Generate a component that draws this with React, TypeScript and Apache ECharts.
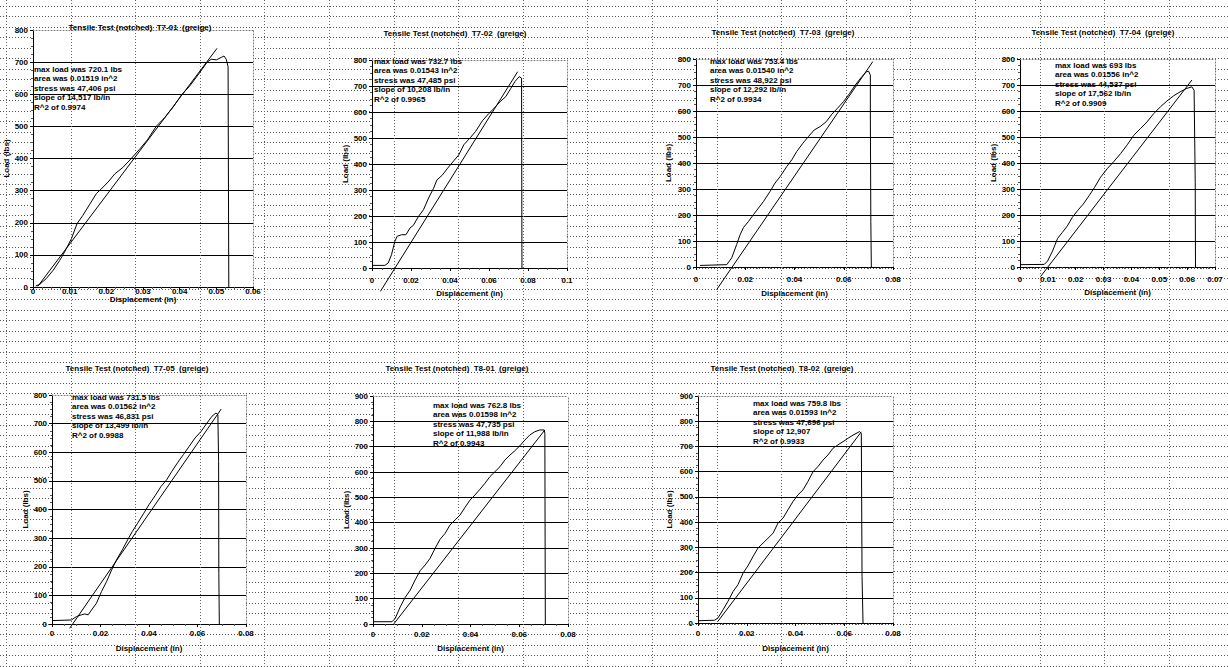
import { useEffect, useRef } from "react";
import * as echarts from "echarts";

const FONT = '"Liberation Sans Narrow", "Liberation Sans", Arial, sans-serif';

// ---------- data ----------
const specimenIds = ["T7-01", "T7-02", "T7-03", "T7-04", "T7-05", "T8-01", "T8-02"];
const xMax = [0.06, 0.1, 0.08, 0.07, 0.08, 0.08, 0.08];
const xStep = [0.01, 0.02, 0.02, 0.01, 0.02, 0.02, 0.02];
const yMax = [800, 800, 800, 800, 800, 900, 900];
const yStep = 100;

const maxLoads = ["720.1", "732.7", "753.4", "693", "731.5", "762.8", "759.8"];
const areas = ["0.01519", "0.01543", "0.01540", "0.01556", "0.01562", "0.01598", "0.01593"];
const stresses = ["47,406", "47,485", "48,922", "44,537", "46,831", "47,735", "47,696"];
const slopes = ["14,517 lb/in", "10,208 lb/in", "12,292 lb/in", "17,562 lb/in", "13,499 lb/in", "11,988 lb/in", "12,907"];
const rSquared = ["0.9974", "0.9965", "0.9934", "0.9909", "0.9988", "0.9943", "0.9933"];

const t701Curve = [
  [0.0007, 3], [0.0018, 8], [0.0036, 26], [0.0055, 52], [0.0073, 83], [0.0086, 109], [0.0105, 151],
  [0.012, 197], [0.0136, 223], [0.0155, 258], [0.0173, 291], [0.0186, 305], [0.0205, 327], [0.0223, 352],
  [0.0245, 372], [0.0268, 400], [0.029, 428], [0.0312, 458], [0.0336, 500], [0.0359, 527], [0.0382, 560],
  [0.0405, 598], [0.0427, 625], [0.045, 660], [0.0475, 700], [0.0486, 709], [0.05, 707], [0.0514, 715],
  [0.0521, 719], [0.0527, 709], [0.0532, 686], [0.0534, 0],
];
const t701Fit = [[0.0013, 2], [0.0502, 743]];

const t702Curve = [
  [0, 10], [0.0066, 10], [0.0083, 19], [0.01, 51], [0.0117, 102], [0.0129, 122], [0.0152, 128],
  [0.0174, 128], [0.0195, 154], [0.0212, 164], [0.0238, 198], [0.0264, 224], [0.029, 269], [0.0316, 307],
  [0.0333, 339], [0.0359, 356], [0.0388, 384], [0.0419, 412], [0.0445, 435], [0.0471, 474], [0.0505, 502],
  [0.0531, 525], [0.0566, 566], [0.06, 595], [0.0626, 614], [0.0657, 640], [0.0686, 659], [0.0712, 691],
  [0.0733, 717], [0.0755, 736], [0.0767, 730], [0.0769, 0],
];
const t702Fit = [[0.0043, -90], [0.0747, 755]];

const t703Curve = [
  [0.0016, 6], [0.0125, 9], [0.0145, 35], [0.0165, 86], [0.0179, 124], [0.0193, 152], [0.0213, 175],
  [0.0233, 201], [0.0254, 227], [0.0274, 252], [0.0301, 291], [0.0321, 323], [0.0342, 348], [0.0369, 387],
  [0.0389, 412], [0.0409, 444], [0.0434, 476], [0.0457, 502], [0.048, 527], [0.0504, 540], [0.0529, 559],
  [0.0552, 588], [0.0575, 611], [0.0599, 636], [0.0624, 668], [0.0647, 700], [0.067, 728], [0.0692, 751],
  [0.0701, 753], [0.0708, 738], [0.0708, 585], [0.071, 175], [0.0712, 0],
];
const t703Fit = [[0.0084, -87], [0.0718, 790]];

const t704Curve = [
  [0, 9], [0.0087, 10], [0.0099, 23], [0.0117, 62], [0.0135, 110], [0.0152, 133], [0.017, 158],
  [0.0188, 191], [0.0206, 216], [0.0227, 242], [0.0248, 274], [0.0268, 307], [0.0289, 345], [0.0313, 378],
  [0.0337, 406], [0.0361, 436], [0.0385, 470], [0.0408, 506], [0.0432, 532], [0.0456, 558], [0.048, 590],
  [0.0504, 616], [0.0527, 638], [0.0551, 658], [0.0575, 674], [0.0599, 687], [0.0617, 693], [0.0625, 680],
  [0.0629, 326], [0.063, 0],
];
const t704Fit = [[0.0075, -35], [0.0617, 719]];

const t705Curve = [
  [0, 12], [0.008, 14], [0.0101, 26], [0.0121, 32], [0.0135, 35], [0.0149, 32], [0.0163, 49],
  [0.0183, 72], [0.0204, 113], [0.0225, 148], [0.0246, 189], [0.0266, 224], [0.029, 259], [0.0312, 294],
  [0.0331, 323], [0.0353, 352], [0.0377, 385], [0.04, 417], [0.0425, 448], [0.045, 481], [0.0473, 504],
  [0.0494, 533], [0.0519, 565], [0.0542, 592], [0.0566, 621], [0.059, 650], [0.0615, 673], [0.0639, 702],
  [0.066, 726], [0.0676, 737], [0.0684, 732], [0.0687, 568], [0.0688, 177], [0.069, 0],
];
const t705Fit = [[0.0073, -15], [0.0698, 751]];

const t801Curve = [
  [0, 9], [0.0078, 9], [0.0091, 22], [0.0112, 68], [0.0132, 105], [0.0153, 134], [0.0173, 174],
  [0.0194, 211], [0.0214, 233], [0.0234, 259], [0.0255, 299], [0.0275, 334], [0.0296, 358], [0.0316, 391],
  [0.0337, 411], [0.0357, 430], [0.0378, 461], [0.0398, 489], [0.0418, 509], [0.0439, 532], [0.0459, 555],
  [0.048, 582], [0.05, 601], [0.0521, 621], [0.0541, 647], [0.0562, 667], [0.0582, 684], [0.0602, 703],
  [0.0623, 726], [0.0643, 746], [0.0664, 759], [0.0684, 766], [0.0702, 766], [0.0705, 753], [0.0706, 371],
  [0.0707, 0],
];
const t801Fit = [[0.0085, 0], [0.0705, 766]];

const t802Curve = [
  [0, 9], [0.0068, 11], [0.0082, 20], [0.0103, 53], [0.0123, 86], [0.0144, 125], [0.0164, 152],
  [0.0185, 198], [0.0205, 227], [0.0226, 264], [0.0246, 297], [0.0267, 317], [0.0287, 336], [0.0308, 356],
  [0.0328, 396], [0.0349, 416], [0.0369, 449], [0.039, 482], [0.041, 508], [0.0431, 528], [0.0451, 561],
  [0.0472, 600], [0.0492, 620], [0.0513, 646], [0.0533, 666], [0.0554, 693], [0.0574, 706], [0.0595, 719],
  [0.0615, 732], [0.0636, 745], [0.0663, 759], [0.067, 752], [0.0673, 185], [0.0677, 0],
];
const t802Fit = [[0.0082, 7], [0.067, 758]];

const curves = [t701Curve, t702Curve, t703Curve, t704Curve, t705Curve, t801Curve, t802Curve];
const fits = [t701Fit, t702Fit, t703Fit, t704Fit, t705Fit, t801Fit, t802Fit];

// ---------- layout (pixels) ----------
const gridRects = [
  { left: 33, top: 30, width: 220, height: 257 },
  { left: 372, top: 60, width: 195, height: 208 },
  { left: 696, top: 59, width: 197, height: 208 },
  { left: 1020, top: 59, width: 195, height: 208 },
  { left: 52, top: 395, width: 194, height: 229 },
  { left: 373, top: 396, width: 195, height: 228 },
  { left: 698, top: 396, width: 195, height: 227 },
];
const titlePos = [[140, 27], [455, 33], [783, 32], [1103, 32], [137, 368], [457, 368], [782, 368]];
const notePos = [[34, 69], [374, 61], [710, 61], [1055, 65], [72, 397], [433, 405], [753, 403]];
const yNameGap = [17, 22, 24, 21, 23, 22, 25];
const xNameGap = [0, 21, 22, 21, 20, 20, 21];
const xLabelMargin = [0, 8, 8, 8, 5, 6, 6];

function buildOption() {
  const grid: any[] = [];
  const xAxis: any[] = [];
  const yAxis: any[] = [];
  const series: any[] = [];
  const graphic: any[] = [];

  // spreadsheet cell lines
  for (let n = 0; n < 64; n++) {
    const y = Math.round(6 + 10.47 * n) + 0.5;
    graphic.push({
      type: "line", z: -1, silent: true,
      shape: { x1: 0, y1: y, x2: 1228, y2: y },
      style: { stroke: "#555", lineWidth: 1, lineDash: [1, 2] },
    });
  }
  for (let n = 0; n < 19; n++) {
    const x = Math.round(6 + 64.6 * n) + 0.5;
    graphic.push({
      type: "line", z: 1, silent: true,
      shape: { x1: x, y1: 0, x2: x, y2: 667 },
      style: { stroke: "#666", lineWidth: 1, lineDash: [1, 2] },
    });
  }

  const labelStyle = { fontFamily: FONT, fontWeight: "bold", fontSize: 8, color: "#000" };

  specimenIds.forEach((id, i) => {
    grid.push({
      ...gridRects[i], show: true, backgroundColor: "#fff", borderWidth: 0, containLabel: false,
    });
    xAxis.push({
      type: "value", gridIndex: i, min: 0, max: xMax[i], interval: xStep[i], position: "bottom",
      name: "Displacement (in)", nameLocation: "middle", nameGap: xNameGap[i],
      nameTextStyle: { ...labelStyle },
      axisLine: { show: true, onZero: false, lineStyle: { color: "#000", width: 1 } },
      axisTick: { show: true, length: 3, lineStyle: { color: "#000" } },
      minorTick: { show: true, splitNumber: 4, length: 2, lineStyle: { color: "#555" } },
      axisLabel: { ...labelStyle, margin: xLabelMargin[i] },
      splitLine: { show: false },
    });
    xAxis.push({
      type: "value", gridIndex: i, min: 0, max: xMax[i], position: "top",
      axisLine: { show: true, onZero: false, lineStyle: { color: "#777", width: 1, type: [1, 2] } },
      axisTick: { show: false }, axisLabel: { show: false }, splitLine: { show: false },
    });
    yAxis.push({
      type: "value", gridIndex: i, min: 0, max: yMax[i], interval: yStep, position: "left",
      name: "Load (lbs)", nameLocation: "middle", nameGap: yNameGap[i],
      nameTextStyle: { ...labelStyle },
      axisLine: { show: true, onZero: false, lineStyle: { color: "#000", width: 1 } },
      axisTick: { show: true, length: 3, lineStyle: { color: "#000" } },
      minorTick: { show: true, splitNumber: 4, length: 2, lineStyle: { color: "#555" } },
      axisLabel: { ...labelStyle, margin: 5 },
      splitLine: { show: true, showMinLine: false, showMaxLine: false, lineStyle: { color: "#000", width: 1 } },
    });
    yAxis.push({
      type: "value", gridIndex: i, min: 0, max: yMax[i], position: "right",
      axisLine: { show: true, onZero: false, lineStyle: { color: "#777", width: 1, type: [1, 2] } },
      axisTick: { show: false }, axisLabel: { show: false }, splitLine: { show: false },
    });
    series.push({
      type: "line", name: id + " data", xAxisIndex: 2 * i, yAxisIndex: 2 * i,
      data: curves[i], symbol: "none", showSymbol: false, clip: false, silent: true,
      lineStyle: { color: "#000", width: 1 },
    });
    series.push({
      type: "line", name: id + " fit", xAxisIndex: 2 * i, yAxisIndex: 2 * i,
      data: fits[i], symbol: "none", showSymbol: false, clip: false, silent: true,
      lineStyle: { color: "#000", width: 1 },
    });

    graphic.push({
      type: "text", z: 5, silent: true, x: titlePos[i][0], y: titlePos[i][1],
      style: {
        text: `Tensile Test (notched)  ${id}  (greige)`, align: "center", verticalAlign: "middle",
        fontFamily: FONT, fontWeight: "bold", fontSize: 8, fill: "#000",
      },
    });
    const lines = [
      `max load was ${maxLoads[i]} lbs`,
      `area was ${areas[i]} in^2`,
      `stress was ${stresses[i]} psi`,
      `slope of ${slopes[i]}`,
      `R^2 of ${rSquared[i]}`,
    ];
    lines.forEach((t, k) => {
      graphic.push({
        type: "text", z: 5, silent: true, x: notePos[i][0], y: notePos[i][1] + k * 9.6,
        style: {
          text: t, align: "left", verticalAlign: "middle",
          fontFamily: FONT, fontWeight: "bold", fontSize: 8, fill: "#000",
        },
      });
    });
  });

  return {
    animation: false,
    backgroundColor: "#fff",
    grid, xAxis, yAxis, series, graphic,
  };
}

export default function App() {
  const ref = useRef<HTMLDivElement>(null);
  useEffect(() => {
    if (!ref.current) return;
    const chart = echarts.init(ref.current, undefined, { renderer: "svg" });
    chart.setOption(buildOption() as any);
    return () => chart.dispose();
  }, []);
  return (
    <div
      ref={ref}
      style={{ position: "fixed", left: 0, top: 0, width: 1228, height: 667, background: "#fff" }}
    />
  );
}
